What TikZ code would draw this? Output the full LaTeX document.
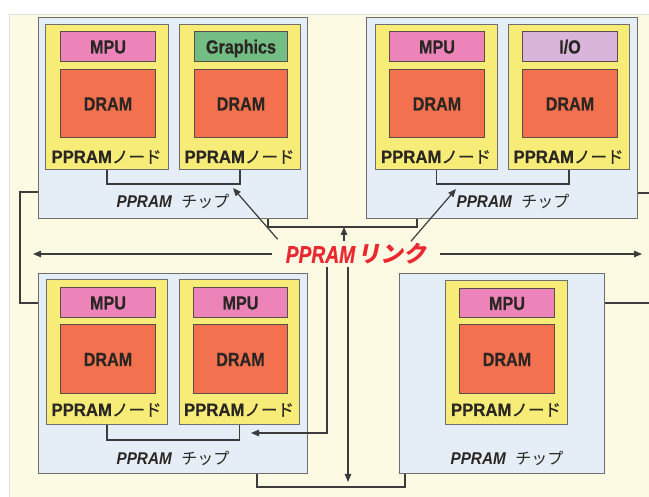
\documentclass[tikz,border=0pt]{standalone}
\usepackage{fontspec}
\setmainfont{Liberation Sans}
\newfontfamily\cjk{Noto Sans CJK JP}
\newfontfamily\cjkmed[FakeBold=0.8]{Noto Sans CJK JP}
\newfontfamily\cjksl[FakeSlant=0.2]{Noto Sans CJK JP}
\newfontfamily\redsans[FakeStretch=0.8,FakeBold=0.6]{Liberation Sans}
\newfontfamily\unitfont[FakeStretch=0.85,FakeBold=0.6]{Liberation Sans}
\newfontfamily\labelfont[FakeStretch=0.93,FakeBold=0.4]{Liberation Sans}
\newfontfamily\chipfont[FakeStretch=0.9]{Liberation Sans}
\usetikzlibrary{arrows.meta,calc}

\definecolor{bgcream}{HTML}{FDFAE4}
\definecolor{chipblue}{HTML}{E5EDF6}
\definecolor{nodeyellow}{HTML}{F7EC78}
\definecolor{mpupink}{HTML}{EC84BA}
\definecolor{gfxgreen}{HTML}{74BE85}
\definecolor{iolilac}{HTML}{D9B4DB}
\definecolor{dramred}{HTML}{F3714F}
\definecolor{edgegray}{HTML}{6E6E6E}
\definecolor{unitedge}{HTML}{5A4C46}
\definecolor{linkgray}{HTML}{3C3C3C}
\definecolor{textdark}{HTML}{2A2622}
\definecolor{linkred}{HTML}{EA2830}

\tikzset{
  x=1pt, y=-1pt,
  box/.style 2 args={draw=edgegray, line width=1pt, inner sep=0pt, anchor=north west,
    minimum width=#1pt, minimum height=#2pt},
  chipbox/.style 2 args={box={#1}{#2}, fill=chipblue},
  nodebox/.style 2 args={box={#1}{#2}, fill=nodeyellow},
  unitbox/.style 2 args={box={#1}{#2}, draw=unitedge, text=textdark,
    text height=14pt, text depth=0pt,
    font=\unitfont\bfseries\fontsize{19}{19}\selectfont},
  mpu/.style={unitbox={95}{30}, fill=mpupink},
  dram/.style={unitbox={95}{68}, fill=dramred},
  nodelabel/.style={inner sep=0pt, text=textdark, font=\labelfont\bfseries\fontsize{18}{18}\selectfont},
  chiplabel/.style={inner sep=0pt, text=textdark, font=\fontsize{16}{16}\selectfont},
  link/.style={draw=linkgray, line width=1.2pt},
  arrowlink/.style={link, -{Triangle[length=8pt,width=6.5pt]}},
}

\newcommand{\nodetext}{PPRAM{\cjkmed\mdseries\fontsize{16.5}{16.5}\selectfont ノード}}
\newcommand{\chiptext}{{\chipfont\bfseries\itshape\fontsize{17}{17}\selectfont PPRAM}\hspace{0.6em}{\cjk チップ}}

\begin{document}
\begin{tikzpicture}
\useasboundingbox (0,0) rectangle (649,497);
\fill[white] (0,0) rectangle (649,497);
\filldraw[fill=bgcream, draw=black!12, line width=0.5pt] (9,14) rectangle (652,500);

% chips
\node[chipbox={269}{201}] (c1) at (38,17) {};
\node[chipbox={271}{201}] (c2) at (366,17) {};
\node[chipbox={269}{200}] (c3) at (38,273) {};
\node[chipbox={205}{200}] (c4) at (399,273) {};

% PPRAM nodes
\node[nodebox={123}{145}] (n1a) at (45,24) {};
\node[nodebox={121}{145}] (n1b) at (179,24) {};
\node[nodebox={122}{145}] (n2a) at (375,24) {};
\node[nodebox={121}{145}] (n2b) at (508,24) {};
\node[nodebox={121}{145}] (n3a) at (46,279) {};
\node[nodebox={120}{145}] (n3b) at (179,279) {};
\node[nodebox={122}{144}] (n4a) at (445,280) {};

% units
\node[mpu] (u1a) at (60,31) {MPU};
\node[dram] (d1a) at (60,69) {DRAM};
\node[unitbox={93}{30}, fill=gfxgreen] (u1b) at (194,31) {Graphics};
\node[dram, minimum width=93pt] (d1b) at (194,69) {DRAM};
\node[mpu] (u2a) at (389,31) {MPU};
\node[dram] (d2a) at (389,69) {DRAM};
\node[unitbox={95}{30}, fill=iolilac] (u2b) at (522,31) {I/O};
\node[dram] (d2b) at (522,69) {DRAM};
\node[mpu] (u3a) at (60,287) {MPU};
\node[dram, minimum height=69pt] (d3a) at (60,324) {DRAM};
\node[mpu, minimum width=94pt] (u3b) at (193,287) {MPU};
\node[dram, minimum width=94pt, minimum height=69pt] (d3b) at (193,324) {DRAM};
\node[mpu, minimum height=29pt] (u4a) at (459,288) {MPU};
\node[dram, minimum height=69pt] (d4a) at (459,324) {DRAM};

% node labels
\node[nodelabel] (l1a) at (106.5,157) {\nodetext};
\node[nodelabel] (l1b) at (239.5,157) {\nodetext};
\node[nodelabel] (l2a) at (436,157) {\nodetext};
\node[nodelabel] (l2b) at (568.5,157) {\nodetext};
\node[nodelabel] (l3a) at (106.5,410) {\nodetext};
\node[nodelabel] (l3b) at (239,410) {\nodetext};
\node[nodelabel] (l4a) at (506,410) {\nodetext};

% chip labels
\node[chiplabel] (k1) at (173,201) {\chiptext};
\node[chiplabel] (k2) at (513,201) {\chiptext};
\node[chiplabel] (k3) at (173,458) {\chiptext};
\node[chiplabel] (k4) at (507,458) {\chiptext};

% on-chip node connectors
\draw[link] (n1a.south) -- ++(0,14) -| (n1b.south);
\draw[link] (n2a.south) -- ++(0,14) -| (n2b.south);
\draw[link] (n3a.south) -- ++(0,15) -| (n3b.south);

% chip-to-chip links
\draw[link] (c1.west |- 0,192) -- (20,192) -- (20,303) -- (c3.west |- 0,303);
\draw[link] (c1.south -| 268,0) -- (268,227) -- (417,227) -- (c2.south -| 417,0);
\draw[link] (c2.east |- 0,193) -- (649,193);
\draw[link] (c4.east |- 0,303) -- (649,303);
\draw[link] (c3.south -| 257,0) -- (257,487) -- (405,487) -- (c4.south -| 405,0);

% PPRAM link label
\node[inner xsep=14pt, inner ysep=2pt, text=linkred] (lk) at (356,254)
  {{\redsans\bfseries\itshape\fontsize{24}{24}\selectfont PPRAM}\hspace{2pt}{\cjksl\bfseries\fontsize{23}{23}\selectfont リンク}};

% named targets
\coordinate (tl) at (33,254);
\coordinate (tr) at (642,254);
\coordinate (tu) at (344,227);
\coordinate (tul) at (233,188);
\coordinate (tur) at (456,189);
\coordinate (td) at (348,482);
\coordinate (tdl) at (251,433);

% arrows from the link label
\draw[arrowlink] (lk.west |- tl) -- (tl);
\draw[arrowlink] (lk.east |- tr) -- (tr);
\draw[arrowlink] (lk.north -| tu) -- (tu);
\draw[arrowlink] ($(lk.north west)+(6,-2)$) -- (tul);
\draw[arrowlink] (lk.north -| 411,0) -- (tur);
\draw[arrowlink] (lk.south -| td) -- (td);
\draw[arrowlink] (lk.south -| 327,0) -- (327,433) -- (tdl);
\end{tikzpicture}
\end{document}
